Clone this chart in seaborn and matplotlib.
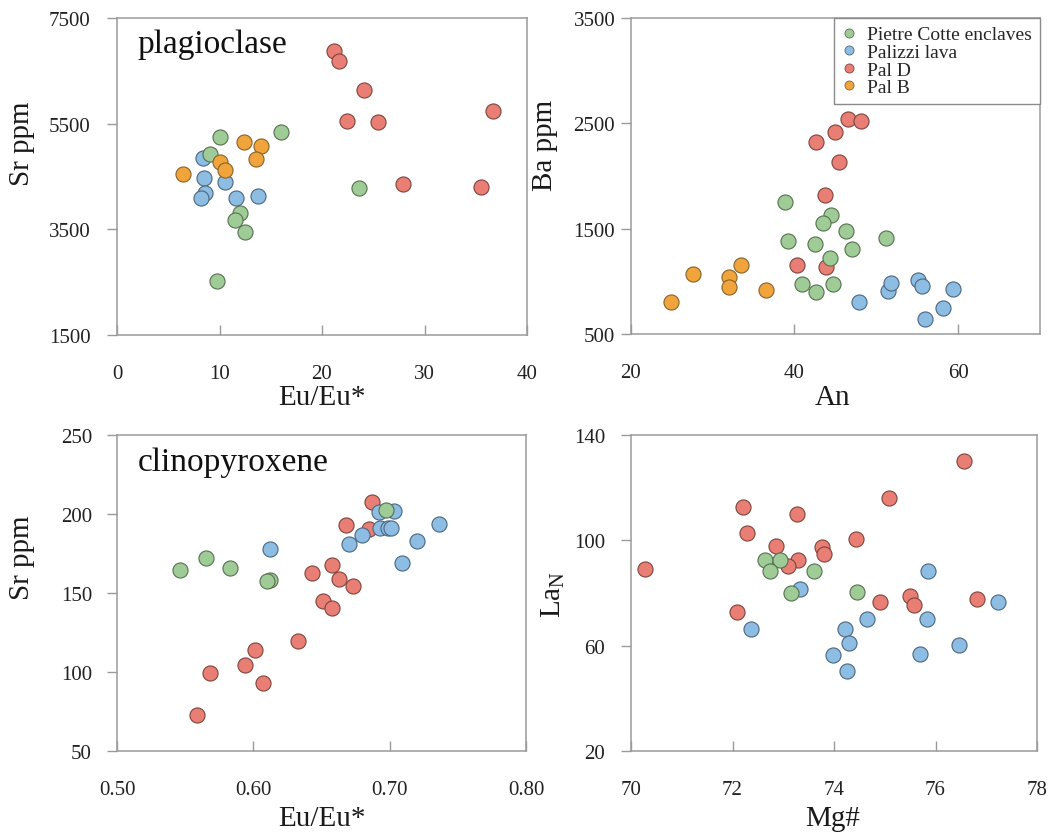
import numpy as np
import pandas as pd
import matplotlib
matplotlib.use("Agg")
import matplotlib.pyplot as plt
from matplotlib.lines import Line2D
import seaborn as sns

# ---------------- data ----------------
groups = ["Pietre Cotte enclaves", "Palizzi lava", "Pal D", "Pal B"]
fill_colors = {"Pietre Cotte enclaves": "#9fcb97", "Palizzi lava": "#8dbde2",
               "Pal D": "#e97f74", "Pal B": "#f1a43b"}
edge_colors = {"Pietre Cotte enclaves": "#56704f", "Palizzi lava": "#4a6680",
               "Pal D": "#7e433d", "Pal B": "#86622a"}
draw_order = ["Pal D", "Palizzi lava", "Pietre Cotte enclaves", "Pal B"]

# plagioclase: Eu/Eu* vs Sr ppm
plag_euc_green = [10.05, 16.0, 9.07, 23.6, 12.0, 11.5, 12.5, 9.8]
plag_sr_green = [5256, 5345, 4928, 4284, 3810, 3678, 3445, 2528]
plag_euc_blue = [8.4, 8.5, 10.5, 8.6, 8.2, 11.6, 13.8]
plag_sr_blue = [4847, 4474, 4404, 4184, 4089, 4100, 4127]
plag_euc_red = [21.2, 21.7, 24.1, 22.4, 25.5, 27.9, 35.5, 36.7]
plag_sr_red = [6867, 6678, 6141, 5548, 5529, 4360, 4309, 5743]
plag_euc_orange = [6.4, 12.4, 14.0, 13.6, 10.05, 10.5]
plag_sr_orange = [4555, 5156, 5080, 4840, 4771, 4625]

# plagioclase: An vs Ba ppm
an_green = [38.9, 44.5, 43.5, 46.3, 51.2, 39.2, 42.5, 47.1, 44.4, 41.0, 44.7, 42.6]
ba_green = [1753, 1633, 1554, 1481, 1408, 1383, 1357, 1310, 1221, 977, 975, 895]
an_blue = [47.9, 51.4, 51.8, 55.1, 55.6, 59.4, 58.2, 56.0]
ba_blue = [804, 904, 980, 1009, 956, 930, 743, 645]
an_red = [46.6, 48.2, 45.0, 42.6, 45.5, 43.8, 40.3, 43.9]
ba_red = [2544, 2518, 2418, 2319, 2133, 1822, 1158, 1136]
an_orange = [25.0, 27.6, 32.0, 32.0, 33.5, 36.5]
ba_orange = [800, 1070, 1037, 942, 1155, 914]

# clinopyroxene: Eu/Eu* vs Sr ppm
cpx_euc_green = [0.546, 0.565, 0.583, 0.612, 0.610, 0.697]
cpx_sr_green = [164.3, 172.0, 166.0, 158.3, 157.3, 202.7]
cpx_euc_blue = [0.612, 0.670, 0.680, 0.692, 0.703, 0.693, 0.699, 0.701, 0.720, 0.736, 0.709]
cpx_sr_blue = [177.8, 180.7, 186.8, 201.4, 201.7, 190.9, 190.9, 190.9, 183.0, 193.8, 169.0]
cpx_euc_red = [0.687, 0.668, 0.685, 0.658, 0.643, 0.663, 0.673, 0.651, 0.658,
               0.633, 0.601, 0.594, 0.568, 0.607, 0.559]
cpx_sr_red = [207.4, 193.0, 190.5, 167.6, 162.8, 159.0, 154.5, 145.0, 140.8,
              119.5, 114.2, 104.7, 99.4, 93.3, 73.0]

# clinopyroxene: Mg# vs La_N
mg_green = [72.65, 72.94, 72.74, 73.60, 73.16, 74.45]
la_green = [92.6, 92.6, 88.4, 88.4, 80.0, 80.2]
mg_blue = [73.33, 75.85, 77.23, 74.66, 75.83, 72.36, 74.22, 74.29, 76.46, 73.98, 75.70, 74.26]
la_blue = [81.5, 88.4, 76.4, 70.3, 70.0, 66.5, 66.5, 61.1, 60.2, 56.4, 56.8, 50.3]
mg_red = [70.27, 76.56, 75.09, 72.21, 73.28, 72.29, 74.44, 72.86, 73.76, 73.81,
          73.29, 73.09, 72.09, 74.90, 75.50, 75.58, 76.82]
la_red = [89.3, 130.0, 115.9, 112.6, 110.0, 102.9, 100.6, 97.7, 97.3, 95.0,
          92.6, 90.3, 72.6, 76.4, 78.7, 75.3, 77.8]


def frame(pairs):
    rows = []
    for g, (xs, ys) in pairs.items():
        for x, y in zip(xs, ys):
            rows.append({"group": g, "x": x, "y": y})
    return pd.DataFrame(rows)


df_plag_eu = frame({"Pietre Cotte enclaves": (plag_euc_green, plag_sr_green),
                    "Palizzi lava": (plag_euc_blue, plag_sr_blue),
                    "Pal D": (plag_euc_red, plag_sr_red),
                    "Pal B": (plag_euc_orange, plag_sr_orange)})
df_plag_an = frame({"Pietre Cotte enclaves": (an_green, ba_green),
                    "Palizzi lava": (an_blue, ba_blue),
                    "Pal D": (an_red, ba_red),
                    "Pal B": (an_orange, ba_orange)})
df_cpx_eu = frame({"Pietre Cotte enclaves": (cpx_euc_green, cpx_sr_green),
                   "Palizzi lava": (cpx_euc_blue, cpx_sr_blue),
                   "Pal D": (cpx_euc_red, cpx_sr_red)})
df_cpx_mg = frame({"Pietre Cotte enclaves": (mg_green, la_green),
                   "Palizzi lava": (mg_blue, la_blue),
                   "Pal D": (mg_red, la_red)})

# ---------------- style ----------------
sns.set_theme(style="ticks")
plt.rcParams["font.family"] = ["Liberation Serif", "DejaVu Serif"]
plt.rcParams["mathtext.fontset"] = "custom"
plt.rcParams["mathtext.rm"] = "Liberation Serif"
plt.rcParams["mathtext.it"] = "Liberation Serif:italic"

spine_col = "#9a9a9a"
fig = plt.figure(figsize=(10.56, 8.37), dpi=100)
W, H = 1056, 837


def add_ax(left, right, top, bottom):
    return fig.add_axes([left / W, 1 - bottom / H, (right - left) / W, (bottom - top) / H])


ax1 = add_ax(117, 527, 19, 336)
ax2 = add_ax(630.5, 1040, 19, 335)
ax3 = add_ax(117, 526, 436, 752)
ax4 = add_ax(631, 1037, 436, 752)


def scatter(ax, df):
    for g in draw_order:
        sub = df[df["group"] == g]
        if sub.empty:
            continue
        sns.scatterplot(data=sub, x="x", y="y", ax=ax, s=118, color=fill_colors[g],
                        edgecolor=edge_colors[g], linewidth=0.8, legend=False, zorder=3)


def style(ax, xlim, xticks, xlabels, ylim, yticks, xlab, ylab, ypad,
          xlab_pos, ylab_pos):
    ax.set_xlim(*xlim)
    ax.set_ylim(*ylim)
    ax.set_xticks(xticks)
    ax.set_xticklabels(xlabels)
    ax.set_yticks(yticks)
    for sp in ax.spines.values():
        sp.set_color(spine_col)
        sp.set_linewidth(1.1)
        sp.set_visible(True)
    ax.tick_params(axis="x", direction="in", length=7, width=1, color=spine_col,
                   labelsize=15, pad=21, labelcolor="#222222")
    ax.tick_params(axis="y", direction="out", length=7, width=1, color=spine_col,
                   labelsize=15, pad=ypad, labelcolor="#222222")
    ax.set_xlabel(xlab, fontsize=21, color="#1a1a1a", va="center")
    ax.set_ylabel(ylab, fontsize=21, color="#1a1a1a", va="center")
    ax.xaxis.set_label_coords(*xlab_pos)
    ax.yaxis.set_label_coords(*ylab_pos)
    ax.set_facecolor("white")


scatter(ax1, df_plag_eu)
style(ax1, (0, 40), [0, 10, 20, 30, 40], ["0", "10", "20", "30", "40"],
      (1500, 7500), [1500, 3500, 5500, 7500], "Eu/Eu*", "Sr ppm", 12,
      (0.5, -0.195), (-0.232, 0.606))
ax1.text(0.051, 0.893, "plagioclase", transform=ax1.transAxes, fontsize=24,
         va="baseline", ha="left", color="#111111")

scatter(ax2, df_plag_an)
style(ax2, (20, 70), [20, 40, 60], ["20", "40", "60"],
      (500, 3500), [500, 1500, 2500, 3500], "An", "Ba ppm", 4,
      (0.494, -0.199), (-0.21, 0.601))

handles = [Line2D([0], [0], marker="o", linestyle="none", markersize=6.5,
                  markerfacecolor=fill_colors[g], markeredgecolor=edge_colors[g],
                  markeredgewidth=0.6, label=g) for g in groups]
leg = ax2.legend(handles=handles, loc="upper right", bbox_to_anchor=(1.0, 1.0),
                 borderaxespad=0, fontsize=14, frameon=True, fancybox=False,
                 handlelength=0.7, handletextpad=0.6, labelspacing=0.0,
                 borderpad=0.4)
leg.get_frame().set_edgecolor("#8a8a8a")
leg.get_frame().set_linewidth(1.0)
leg.get_frame().set_alpha(1)

scatter(ax3, df_cpx_eu)
style(ax3, (0.5, 0.8), [0.5, 0.6, 0.7, 0.8], ["0.50", "0.60", "0.70", "0.80"],
      (50, 250), [50, 100, 150, 200, 250], "Eu/Eu*", "Sr ppm", 11,
      (0.5, -0.211), (-0.232, 0.614))
ax3.text(0.051, 0.89, "clinopyroxene", transform=ax3.transAxes, fontsize=24,
         va="baseline", ha="left", color="#111111")

scatter(ax4, df_cpx_mg)
style(ax4, (70, 78), [70, 72, 74, 76, 78], ["70", "72", "74", "76", "78"],
      (20, 140), [20, 60, 100, 140], "Mg#", r"La$_{\mathrm{N}}$", 11.5,
      (0.497, -0.211), (-0.192, 0.5))

fig.savefig("out.png", dpi=100, facecolor="white")
